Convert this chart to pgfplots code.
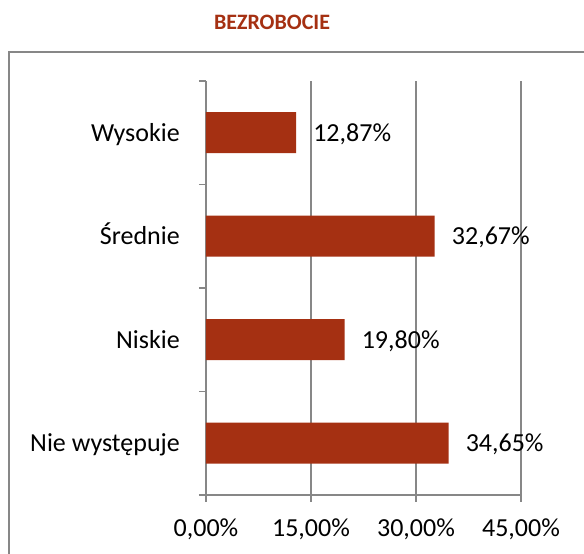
\documentclass[border=0pt]{standalone}
\usepackage{pgfplots}
\pgfplotsset{compat=1.18}
\usepackage{fontspec}
\setmainfont{Carlito}
\definecolor{barred}{HTML}{A53012}
\definecolor{axgray}{HTML}{878787}
\begin{document}
\begin{tikzpicture}[x=1pt,y=1pt,font=\fontsize{26pt}{31pt}\selectfont]
\useasboundingbox (0,0) rectangle (584,554);
\draw[axgray, line width=1.3pt] (9,-20) -- (9,502) -- (620,502);
\node[anchor=base, font=\fontsize{22pt}{26pt}\selectfont\bfseries, text=barred, inner sep=0pt] at (272,524) {BEZROBOCIE};
\begin{axis}[
  at={(206pt,59pt)}, anchor=south west,
  scale only axis, width=315pt, height=414pt,
  xbar, bar width=41pt,
  xmin=0, xmax=45, ymin=-0.5, ymax=3.5,
  axis lines*=left, axis line style={axgray, line width=1.3pt},
  xtick={0,15,30,45}, minor xtick={0,15,30,45},
  xticklabels={{0,00\%},{15,00\%},{30,00\%},{45,00\%}},
  ytick={0,1,2,3}, minor ytick={-0.5,0.5,1.5,2.5,3.5},
  yticklabels={Nie występuje, Niskie, Średnie, Wysokie},
  tick align=outside, major tick length=0pt, minor tick length=7pt,
  tick style={axgray, line width=1.3pt},
  xmajorgrids, major grid style={axgray, line width=1.3pt},
  xticklabel style={anchor=base, yshift=-42pt},
  yticklabel style={anchor=base east, inner sep=0pt, xshift=-26pt, yshift=-8.5pt},
  point meta=x,
  nodes near coords={\pgfmathprintnumber[fixed, fixed zerofill, precision=2, use comma]{\pgfplotspointmeta}\%},
  nodes near coords style={anchor=base west, inner sep=0pt, xshift=17pt, yshift=-8.5pt, text=black, /pgf/number format/assume math mode=true},
  clip=false,
]
\addplot[fill=barred, draw=none] coordinates {(34.65,0) (19.80,1) (32.67,2) (12.87,3)};
\end{axis}
\end{tikzpicture}
\end{document}
